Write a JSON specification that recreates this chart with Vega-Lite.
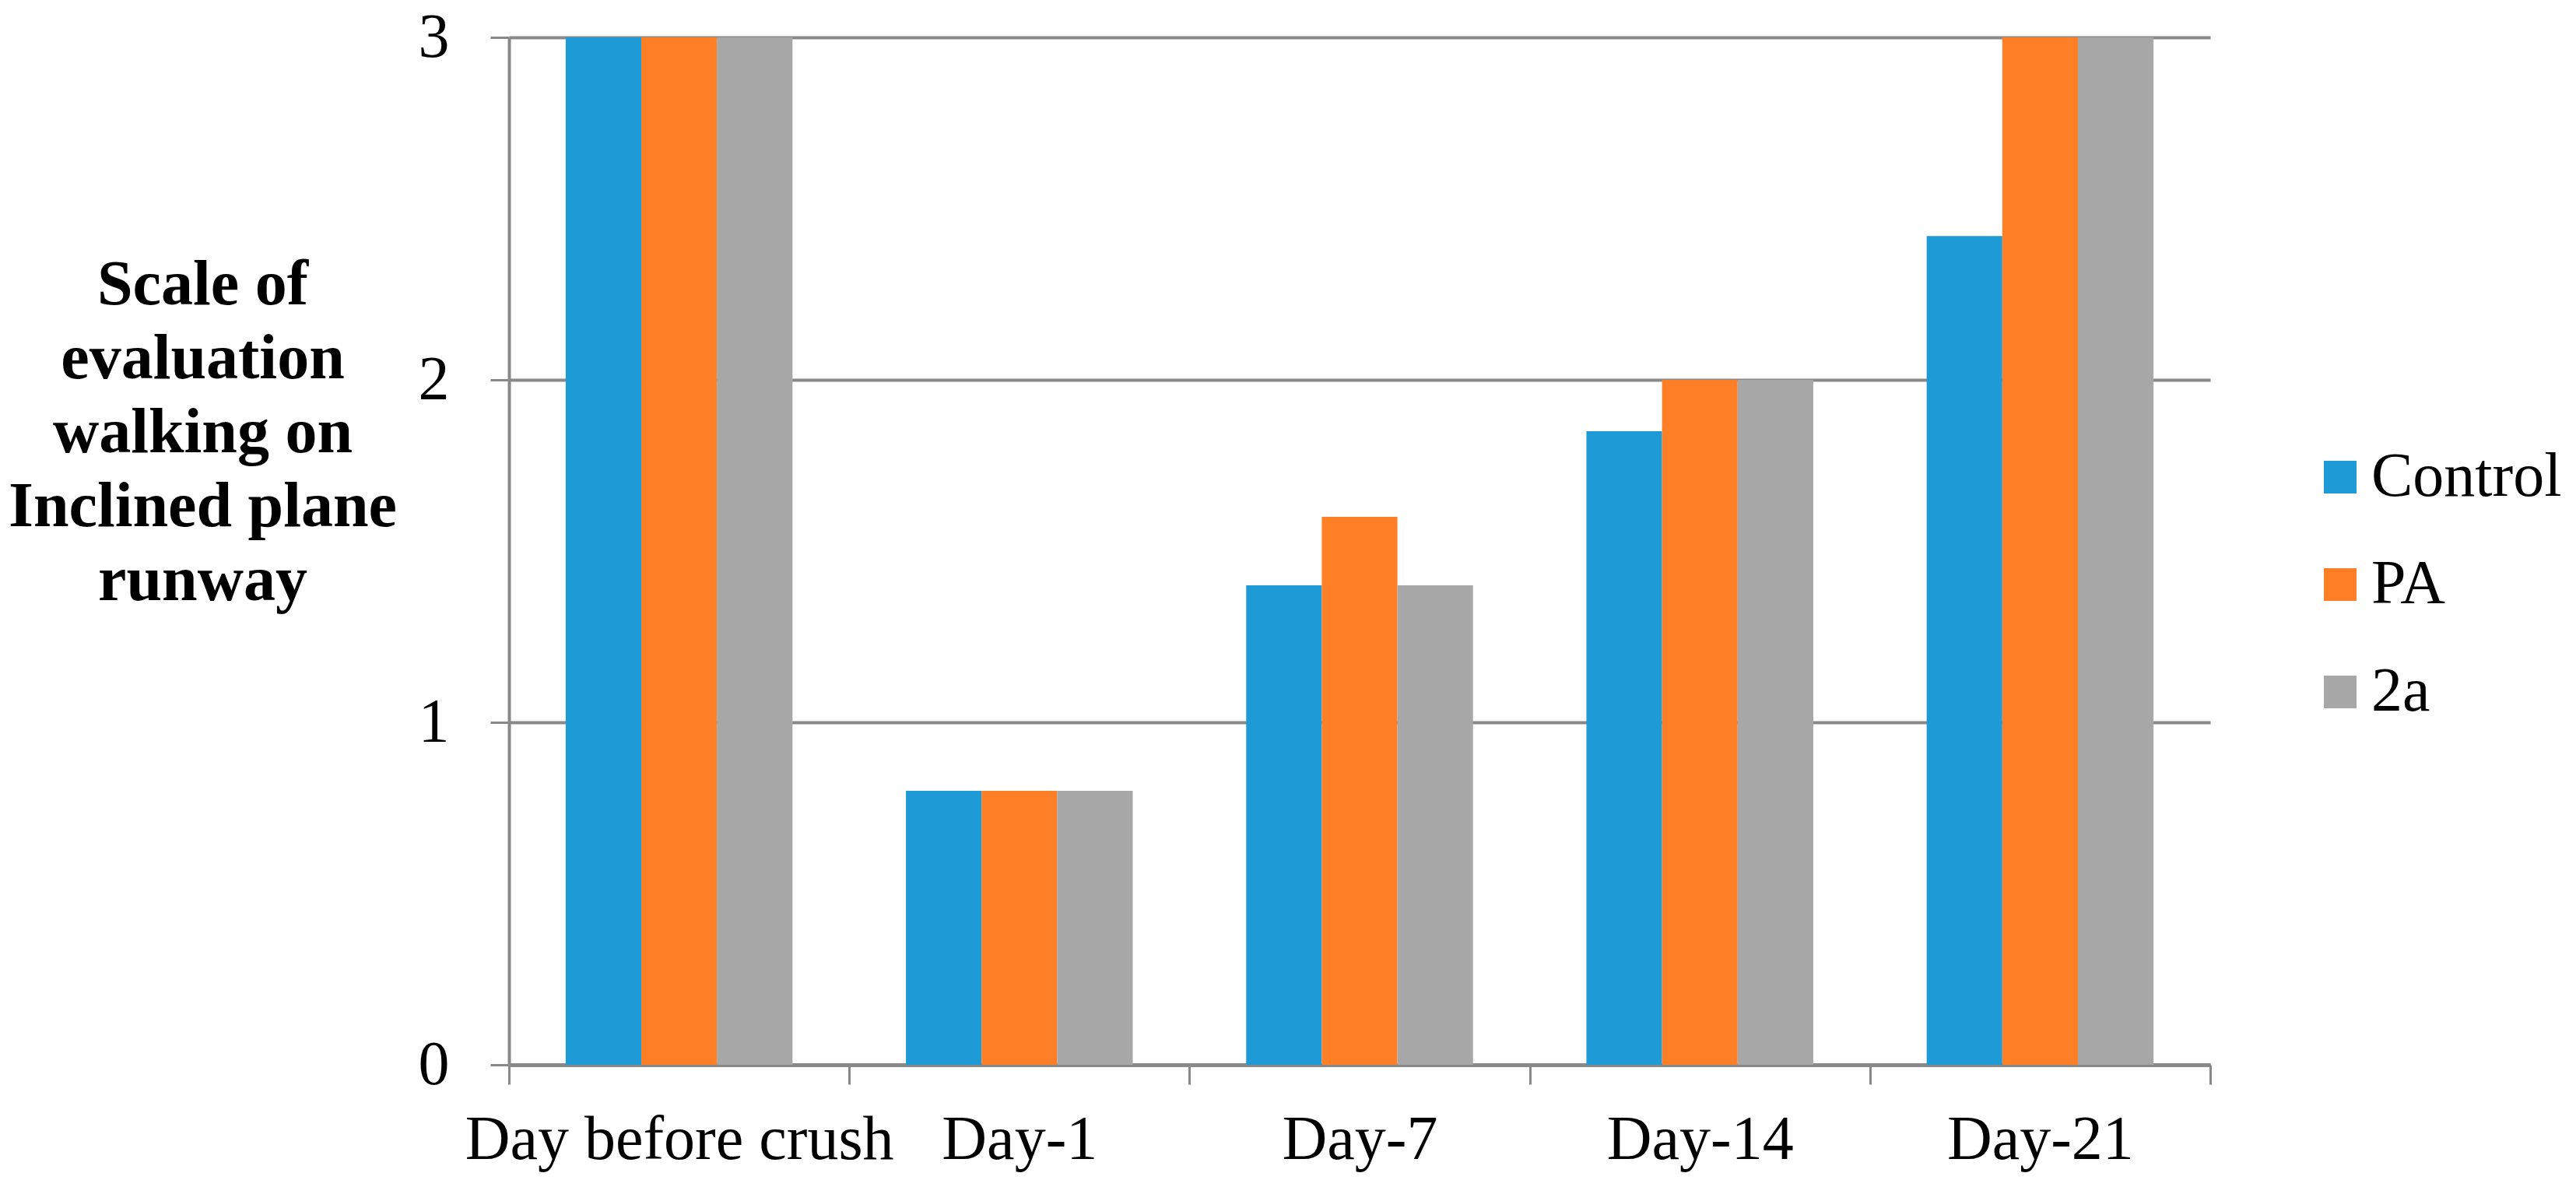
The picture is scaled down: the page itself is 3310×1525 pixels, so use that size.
{
  "$schema": "https://vega.github.io/schema/vega-lite/v6.json",
  "autosize": "none",
  "width": 2186,
  "height": 1320,
  "padding": {"left": 654, "top": 48, "right": 470, "bottom": 157},
  "background": "white",
  "data": {
    "values": [
      {"day": "Day before crush", "group": "Control", "value": 3},
      {"day": "Day before crush", "group": "PA", "value": 3},
      {"day": "Day before crush", "group": "2a", "value": 3},
      {"day": "Day-1", "group": "Control", "value": 0.8},
      {"day": "Day-1", "group": "PA", "value": 0.8},
      {"day": "Day-1", "group": "2a", "value": 0.8},
      {"day": "Day-7", "group": "Control", "value": 1.4},
      {"day": "Day-7", "group": "PA", "value": 1.6},
      {"day": "Day-7", "group": "2a", "value": 1.4},
      {"day": "Day-14", "group": "Control", "value": 1.85},
      {"day": "Day-14", "group": "PA", "value": 2},
      {"day": "Day-14", "group": "2a", "value": 2},
      {"day": "Day-21", "group": "Control", "value": 2.42},
      {"day": "Day-21", "group": "PA", "value": 3},
      {"day": "Day-21", "group": "2a", "value": 3}
    ]
  },
  "mark": {"type": "bar"},
  "encoding": {
    "x": {
      "field": "day",
      "type": "nominal",
      "sort": ["Day before crush", "Day-1", "Day-7", "Day-14", "Day-21"],
      "scale": {"paddingInner": 0, "paddingOuter": 0},
      "axis": {
        "title": null,
        "labelAngle": 0,
        "labelLimit": 0,
        "labelFont": "Liberation Serif",
        "labelFontSize": 80,
        "labelColor": "black",
        "labelBaseline": "alphabetic",
        "labelPadding": 95,
        "tickBand": "extent",
        "tickSize": 25,
        "tickWidth": 3,
        "tickColor": "#898989",
        "domainColor": "#898989",
        "domainWidth": 5,
        "grid": false
      }
    },
    "xOffset": {
      "field": "group",
      "type": "nominal",
      "sort": ["Control", "PA", "2a"],
      "scale": {"paddingInner": 0, "paddingOuter": 0.75}
    },
    "y": {
      "field": "value",
      "type": "quantitative",
      "scale": {"domain": [0, 3], "nice": false},
      "axis": {
        "values": [0, 1, 2, 3],
        "format": "d",
        "labelFont": "Liberation Serif",
        "labelFontSize": 80,
        "labelColor": "black",
        "labelPadding": 53,
        "tickSize": 24,
        "tickWidth": 3,
        "tickColor": "#898989",
        "domainColor": "#898989",
        "domainWidth": 4,
        "grid": true,
        "gridColor": "#898989",
        "gridWidth": 4,
        "title": ["Scale of", "evaluation", "walking on", "Inclined plane", "runway"],
        "titleFont": "Liberation Serif",
        "titleFontSize": 82,
        "titleFontWeight": "bold",
        "titleColor": "black",
        "titleAngle": 0,
        "titleAlign": "center",
        "titleBaseline": "alphabetic",
        "titleLineHeight": 95,
        "titleLimit": 0,
        "titleX": -394,
        "titleY": 342
      }
    },
    "color": {
      "field": "group",
      "type": "nominal",
      "sort": ["Control", "PA", "2a"],
      "scale": {"domain": ["Control", "PA", "2a"], "range": ["#1E9BD7", "#FF7F27", "#A7A7A7"]},
      "legend": {
        "title": null,
        "orient": "none",
        "legendX": 2313,
        "legendY": 525,
        "padding": 0,
        "symbolType": "square",
        "symbolSize": 1764,
        "symbolStrokeWidth": 0,
        "symbolOpacity": 1,
        "labelFont": "Liberation Serif",
        "labelFontSize": 80,
        "labelColor": "black",
        "labelLimit": 0,
        "labelOffset": 0,
        "rowPadding": 58
      }
    }
  },
  "config": {
    "view": {"stroke": null},
    "axis": {"domainCap": "butt"}
  }
}
